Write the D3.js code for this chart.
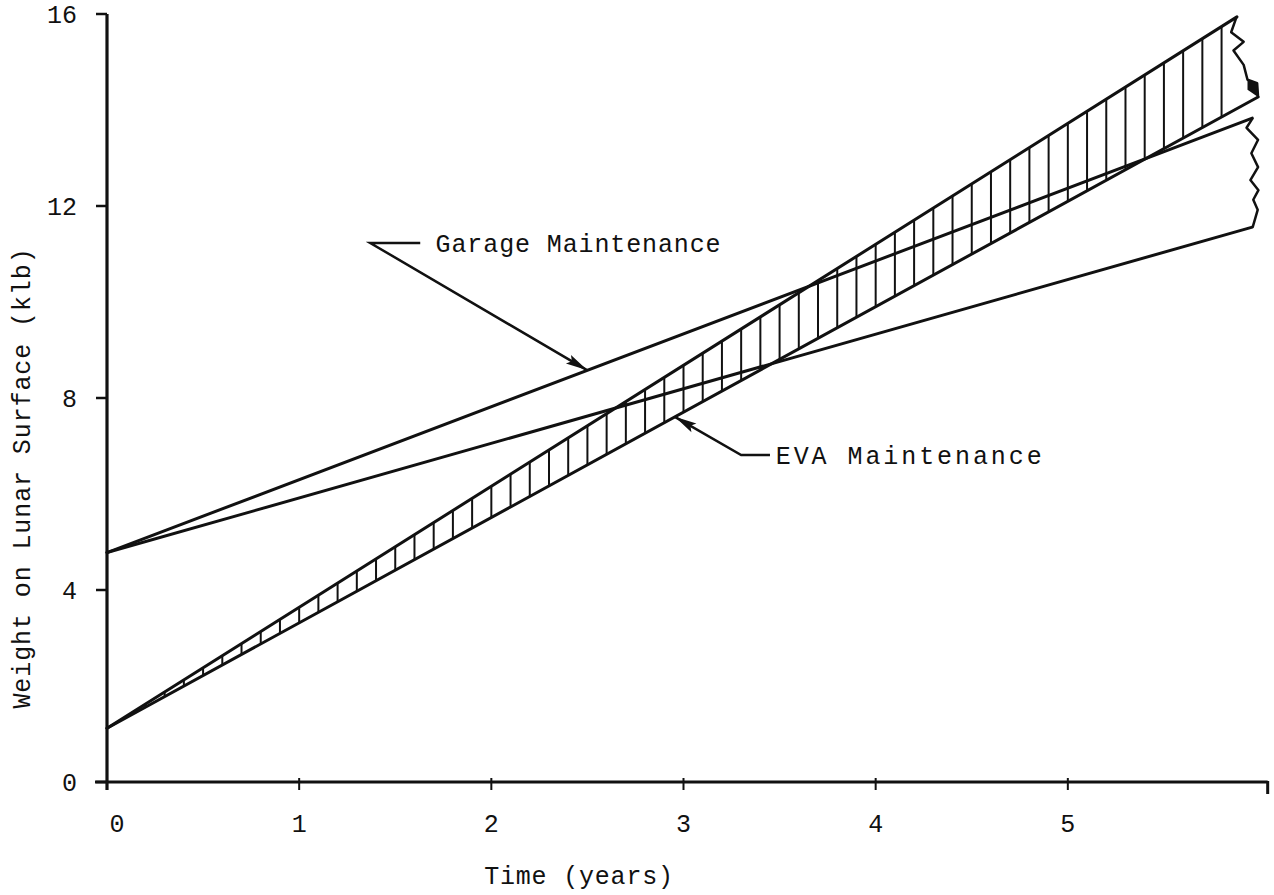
<!DOCTYPE html>
<html>
<head>
<meta charset="utf-8">
<script src="https://cdn.jsdelivr.net/npm/d3@7/dist/d3.min.js"></script>
<style>
  html, body { margin: 0; padding: 0; background: #fff; }
  svg { display: block; }
  text { font-family: "Liberation Mono", "Courier New", monospace; fill: #111; }
</style>
</head>
<body>
<svg id="chart" width="1274" height="895"></svg>
<script>
// ---- data ----
const xTicks = [0, 1, 2, 3, 4, 5];
const yTicks = [0, 4, 8, 12, 16];
const xTitle = "Time (years)";
const yTitle = "Weight on Lunar Surface (klb)";

// Garage maintenance envelope (years, klb)
const garageUpper = [[0, 4.78], [5.96, 13.83]];
const garageLower = [[0, 4.78], [5.96, 11.56]];
// EVA maintenance envelope (years, klb)
const evaUpper = [[0, 1.12], [5.88, 15.94]];
const evaLower = [[0, 1.12], [5.99, 14.27]];

// break (wavy) edges at the right end
const evaBreak = [[5.878, 15.94], [5.850, 15.62], [5.915, 15.42], [5.862, 15.24], [5.915, 14.94], [5.935, 14.63], [5.985, 14.56], [5.990, 14.27]];
const garageBreak = [[5.962, 13.83], [5.930, 13.63], [5.990, 13.38], [5.955, 13.10], [5.990, 12.81], [5.950, 12.54], [5.992, 12.33], [5.965, 12.13], [5.988, 11.92], [5.962, 11.56]];

// hatching of the EVA band: years of the vertical strokes
const hatchFrom = 0.2, hatchTo = 5.85, hatchStep = 0.1;

const labels = ["Garage Maintenance", "EVA Maintenance"];

// ---- drawing ----
const svg = d3.select("#chart");
const x = d3.scaleLinear().domain([0, 6]).range([107, 1260]);
const y = d3.scaleLinear().domain([0, 16]).range([782, 14]);
const line = d3.line().x(d => x(d[0])).y(d => y(d[1]));
const interp = (seg, t) => seg[0][1] + (seg[1][1] - seg[0][1]) * (t - seg[0][0]) / (seg[1][0] - seg[0][0]);
const ink = "#111";

// hatching
const hatchYears = d3.range(hatchFrom, hatchTo, hatchStep);
svg.append("g").selectAll("line").data(hatchYears).join("line")
  .attr("x1", d => x(d)).attr("x2", d => x(d))
  .attr("y1", d => y(interp(evaLower, d)))
  .attr("y2", d => y(interp(evaUpper, d)))
  .attr("stroke", ink).attr("stroke-width", 2);

// envelope lines
[garageUpper, garageLower, evaUpper, evaLower].forEach(s => {
  svg.append("path").attr("d", line(s)).attr("fill", "none")
    .attr("stroke", ink).attr("stroke-width", 3).attr("stroke-linecap", "round");
});
[evaBreak, garageBreak].forEach(s => {
  svg.append("path").attr("d", line(s)).attr("fill", "none")
    .attr("stroke", ink).attr("stroke-width", 2.5).attr("stroke-linejoin", "round");
});
// small filled blob at the EVA break
svg.append("path")
  .attr("d", line([evaBreak[5], evaBreak[6], evaBreak[7], [evaBreak[5][0], evaBreak[7][1] + 0.15]]) + "Z")
  .attr("fill", ink);

// axes
const axisG = svg.append("g");
axisG.append("line").attr("x1", x(0)).attr("x2", x(0)).attr("y1", y(16)).attr("y2", y(0) + 8)
  .attr("stroke", ink).attr("stroke-width", 3.2);
axisG.append("line").attr("x1", x(0) - 12).attr("x2", x(6.04)).attr("y1", y(0)).attr("y2", y(0))
  .attr("stroke", ink).attr("stroke-width", 3.2);
// end tick at right
axisG.append("line").attr("x1", x(6.04)).attr("x2", x(6.04)).attr("y1", y(0) - 1).attr("y2", y(0) + 12)
  .attr("stroke", ink).attr("stroke-width", 3);

// y ticks
axisG.selectAll(".yt").data(yTicks).join("line").attr("class", "yt")
  .attr("x1", x(0) - 11).attr("x2", x(0)).attr("y1", d => y(d)).attr("y2", d => y(d))
  .attr("stroke", ink).attr("stroke-width", 2.5);
axisG.selectAll(".yl").data(yTicks).join("text").attr("class", "yl")
  .attr("x", x(0) - 30).attr("y", d => y(d) + 9)
  .attr("text-anchor", "end").attr("font-size", 25)
  .text(d => d);

// x ticks
axisG.selectAll(".xt").data(xTicks).join("line").attr("class", "xt")
  .attr("x1", d => x(d)).attr("x2", d => x(d)).attr("y1", y(0) - 4).attr("y2", y(0) + 8)
  .attr("stroke", ink).attr("stroke-width", 2);
axisG.selectAll(".xl").data(xTicks).join("text").attr("class", "xl")
  .attr("x", d => x(d) + (d === 0 ? 10 : 0)).attr("y", y(0) + 50)
  .attr("text-anchor", "middle").attr("font-size", 25)
  .text(d => d);

// axis titles
svg.append("text").attr("x", 579).attr("y", 884).attr("text-anchor", "middle")
  .attr("font-size", 25).attr("letter-spacing", 0.8).text(xTitle);
svg.append("text").attr("transform", "translate(30,478) rotate(-90)").attr("text-anchor", "middle")
  .attr("font-size", 25).attr("letter-spacing", 0.9).text(yTitle);

// annotations with arrows
function arrowHead(tip, from, len, half) {
  const dx = tip[0] - from[0], dy = tip[1] - from[1];
  const L = Math.hypot(dx, dy), ux = dx / L, uy = dy / L;
  const bx = tip[0] - ux * len, by = tip[1] - uy * len;
  svg.append("path")
    .attr("d", `M${tip[0]},${tip[1]}L${bx - uy * half},${by + ux * half}L${bx + ux * 4},${by + uy * 4}L${bx + uy * half},${by - ux * half}Z`)
    .attr("fill", ink);
}
function annotate(label, tipT, seg, kneeT, kneeV, barT, textT, textDY, textLen) {
  const tip = [x(tipT), y(interp(seg, tipT))];
  const knee = [x(kneeT), y(kneeV)];
  const bar = [x(barT), y(kneeV)];
  svg.append("path").attr("d", `M${bar[0]},${bar[1]}L${knee[0]},${knee[1]}L${tip[0]},${tip[1]}`)
    .attr("fill", "none").attr("stroke", ink).attr("stroke-width", 2.5);
  arrowHead(tip, knee, 22, 5);
  svg.append("text").attr("x", x(textT)).attr("y", y(kneeV) + textDY)
    .attr("font-size", 25).attr("textLength", textLen).attr("lengthAdjust", "spacing").text(label);
}
annotate(labels[0], 2.5, garageUpper, 1.37, 11.23, 1.63, 1.71, 9, 285);
annotate(labels[1], 2.955, evaLower, 3.30, 6.81, 3.45, 3.48, 9, 266);
</script>
</body>
</html>
